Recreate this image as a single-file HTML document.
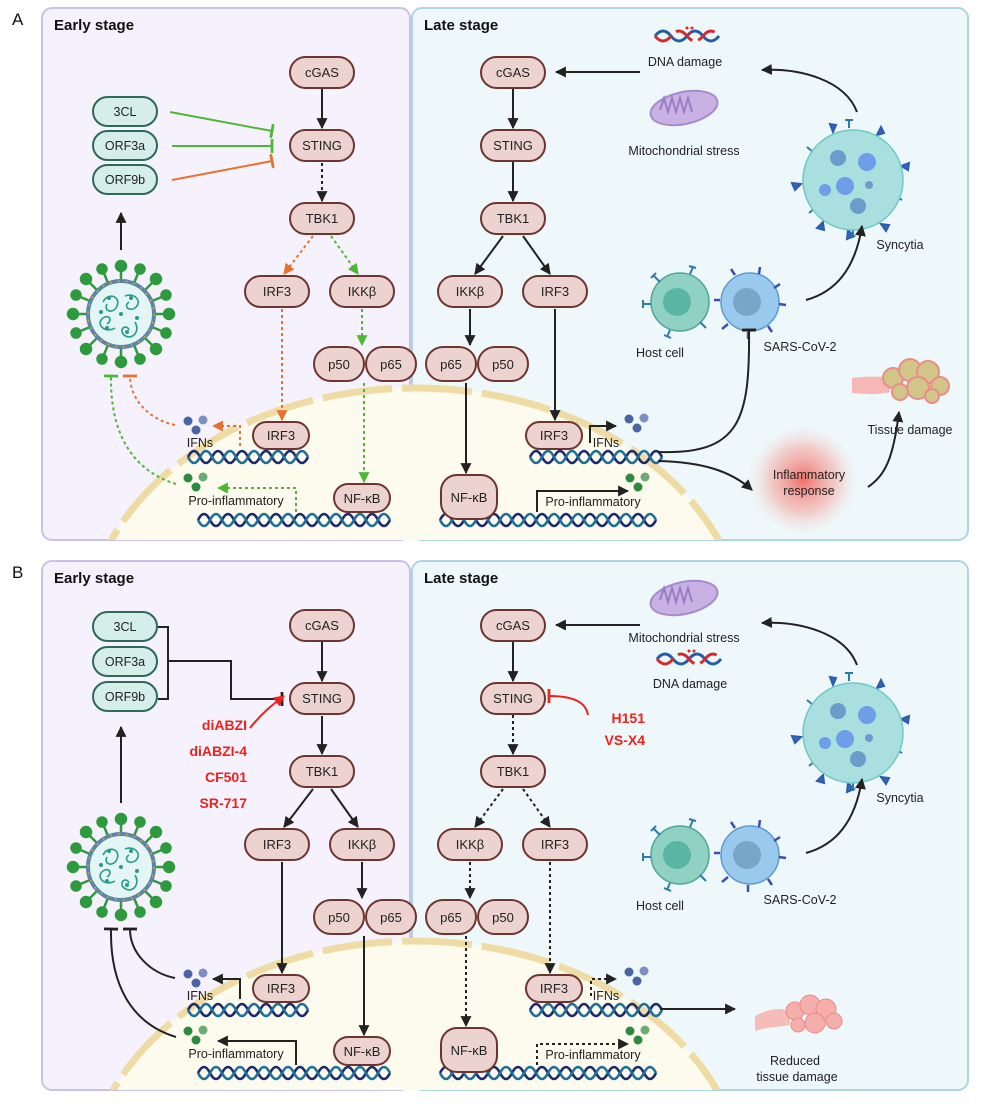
<!DOCTYPE html>
<html><head><meta charset="utf-8"><style>
html,body{margin:0;padding:0;background:#fff;width:991px;height:1104px;overflow:hidden;}
svg{display:block;font-family:"Liberation Sans",sans-serif;}
.n rect{fill:#ecd3cf;stroke:#6e3430;stroke-width:2;}
.g rect{fill:#d5eee9;stroke:#2d6a58;stroke-width:2;}
.t{font-size:13px;fill:#222;text-anchor:middle;}
.tl{font-size:12.5px;fill:#222;text-anchor:middle;}
.h{font-size:15px;font-weight:bold;fill:#111;}
.red{font-size:14px;font-weight:bold;fill:#f0201a;text-anchor:end;}
.k{stroke:#222;stroke-width:2;fill:none;}
.kd{stroke:#222;stroke-width:2;fill:none;stroke-dasharray:3 3;}
.o{stroke:#e8712d;stroke-width:2;fill:none;stroke-dasharray:3 3;}
.gr{stroke:#4cb834;stroke-width:2;fill:none;stroke-dasharray:3 3;}
.d1{stroke:#1d2a6e;stroke-width:2.6;fill:none;}
.d2{stroke:#1f6f96;stroke-width:2.6;fill:none;}
</style></head><body>
<svg width="991" height="1104" viewBox="0 0 991 1104" xmlns="http://www.w3.org/2000/svg">
<defs>
<marker id="ab" viewBox="0 0 10 10" refX="9" refY="5" markerUnits="userSpaceOnUse" markerWidth="11" markerHeight="11" orient="auto"><path d="M0 0L10 5L0 10z" fill="#222"/></marker>
<marker id="ao" viewBox="0 0 10 10" refX="9" refY="5" markerUnits="userSpaceOnUse" markerWidth="11" markerHeight="11" orient="auto"><path d="M0 0L10 5L0 10z" fill="#e8712d"/></marker>
<marker id="ag" viewBox="0 0 10 10" refX="9" refY="5" markerUnits="userSpaceOnUse" markerWidth="11" markerHeight="11" orient="auto"><path d="M0 0L10 5L0 10z" fill="#4cb834"/></marker>
<marker id="ar" viewBox="0 0 10 10" refX="9" refY="5" markerUnits="userSpaceOnUse" markerWidth="11" markerHeight="11" orient="auto"><path d="M0 0L10 5L0 10z" fill="#f0201a"/></marker>
<marker id="tb" viewBox="0 0 10 10" refX="5" refY="5" markerUnits="userSpaceOnUse" markerWidth="14" markerHeight="14" orient="auto"><path d="M5 0V10" stroke="#222" stroke-width="2"/></marker>
<marker id="tg" viewBox="0 0 10 10" refX="5" refY="5" markerUnits="userSpaceOnUse" markerWidth="14" markerHeight="14" orient="auto"><path d="M5 0V10" stroke="#4cb834" stroke-width="2"/></marker>
<marker id="to" viewBox="0 0 10 10" refX="5" refY="5" markerUnits="userSpaceOnUse" markerWidth="14" markerHeight="14" orient="auto"><path d="M5 0V10" stroke="#e8712d" stroke-width="2"/></marker>
<marker id="tr" viewBox="0 0 10 10" refX="5" refY="5" markerUnits="userSpaceOnUse" markerWidth="14" markerHeight="14" orient="auto"><path d="M5 0V10" stroke="#f0201a" stroke-width="2"/></marker>
<radialGradient id="glow"><stop offset="0" stop-color="#f05a50" stop-opacity="0.85"/><stop offset="0.6" stop-color="#f58a80" stop-opacity="0.4"/><stop offset="1" stop-color="#fbd0cc" stop-opacity="0"/></radialGradient>
<clipPath id="cA"><rect x="42" y="8" width="926" height="532" rx="10"/></clipPath>
<clipPath id="cB"><rect x="42" y="561" width="926" height="529" rx="10"/></clipPath>
<g id="virus">
 <g stroke="#2e9a3e" stroke-width="2.5" fill="#2e9a3e">
  <line x1="0" y1="-34" x2="0" y2="-46"/><line x1="0" y1="34" x2="0" y2="46"/><line x1="-34" y1="0" x2="-46" y2="0"/><line x1="34" y1="0" x2="46" y2="0"/>
  <line x1="24" y1="24" x2="33" y2="33"/><line x1="-24" y1="24" x2="-33" y2="33"/><line x1="24" y1="-24" x2="33" y2="-33"/><line x1="-24" y1="-24" x2="-33" y2="-33"/>
  <line x1="13" y1="-31" x2="18" y2="-43"/><line x1="-13" y1="-31" x2="-18" y2="-43"/><line x1="13" y1="31" x2="18" y2="43"/><line x1="-13" y1="31" x2="-18" y2="43"/>
  <line x1="31" y1="13" x2="43" y2="18"/><line x1="31" y1="-13" x2="43" y2="-18"/><line x1="-31" y1="13" x2="-43" y2="18"/><line x1="-31" y1="-13" x2="-43" y2="-18"/>
  <circle cx="0" cy="-48" r="5"/><circle cx="0" cy="48" r="5"/><circle cx="-48" cy="0" r="5"/><circle cx="48" cy="0" r="5"/>
  <circle cx="35" cy="35" r="5"/><circle cx="-35" cy="35" r="5"/><circle cx="35" cy="-35" r="5"/><circle cx="-35" cy="-35" r="5"/>
  <circle cx="19" cy="-45" r="4.5"/><circle cx="-19" cy="-45" r="4.5"/><circle cx="19" cy="45" r="4.5"/><circle cx="-19" cy="45" r="4.5"/>
  <circle cx="45" cy="19" r="4.5"/><circle cx="45" cy="-19" r="4.5"/><circle cx="-45" cy="19" r="4.5"/><circle cx="-45" cy="-19" r="4.5"/>
 </g>
 <circle r="33" fill="#e3f6f5" stroke="#5b86a6" stroke-width="4"/>
 <circle r="33" fill="none" stroke="#e0a030" stroke-width="1.5" stroke-dasharray="2 6"/>
 <g fill="none" stroke="#2a9a8a" stroke-width="1.6"><path d="M-18 -12 c5 -10 18 -6 14 4 c-3 8 -14 6 -10 -2"/><path d="M4 -18 c10 -4 18 6 10 12 c-6 4 -12 -2 -6 -6"/><path d="M14 8 c6 10 -4 20 -12 12 c-4 -6 4 -10 6 -4"/><path d="M-6 14 c-10 6 -20 -4 -12 -10 c6 -4 10 2 4 6"/></g>
 <g fill="#2a9a8a"><circle cx="-12" cy="-16" r="2"/><circle cx="10" cy="-16" r="2"/><circle cx="16" cy="4" r="2"/><circle cx="6" cy="18" r="2"/><circle cx="-14" cy="14" r="2"/><circle cx="-20" cy="-2" r="2"/><circle cx="0" cy="0" r="2"/></g>
</g>
<g id="dots"><circle cx="0" cy="0" r="4.5"/><circle cx="15" cy="-1" r="4.5" opacity="0.7"/><circle cx="8" cy="9" r="4.5"/></g>
<g id="syn">
 <g stroke="#2a5db0" stroke-width="2" fill="#3a64c0">
  <path d="M-20 -48 l-3 -8 l6 1z"/><path d="M24 -45 l4 -8 l3 6z"/><path d="M48 -14 l8 -3 l-1 7z"/><path d="M-52 4 l-9 -1 l3 7z"/><path d="M-30 42 l-6 6 l7 2z"/><path d="M-5 50 l-1 9 l7 -3z"/><path d="M28 44 l5 7 l3 -6z"/>
 </g>
 <g stroke="#2a7ab0" stroke-width="2" fill="none"><path d="M-4 -52 v-8 m-4 0 h8"/><path d="M-40 -28 l-6 -5"/><path d="M42 16 l7 4"/><path d="M-38 28 l-6 5"/><path d="M0 50 v8"/></g>
 <circle r="50" fill="#a9e0df" stroke="#6ec8c4" stroke-width="1.5"/>
 <circle cx="-15" cy="-22" r="8" fill="#6a9ccc"/><circle cx="14" cy="-18" r="9" fill="#6e9ee8"/><circle cx="-8" cy="6" r="9" fill="#6e9ee8"/><circle cx="-28" cy="10" r="6" fill="#6e9ee8"/><circle cx="16" cy="5" r="4" fill="#6a9ccc"/><circle cx="5" cy="26" r="8" fill="#6a9ccc"/>
</g>
<g id="cells">
 <circle cx="0" cy="0" r="29" fill="#8fd1c3" stroke="#4fa598" stroke-width="1.5"/>
 <circle cx="-3" cy="0" r="14" fill="#5bb5a5"/>
 <g stroke="#2a7ab0" stroke-width="2" fill="none"><path d="M-20 -20 l-6 -6 m-3 2 l5 -5"/><path d="M10 -28 l3 -7 m-4 -1 l7 2"/><path d="M-29 2 h-8 m0 -4 v8"/><path d="M-10 28 l-3 7 m-3 -2 l7 3"/><path d="M20 20 l6 6"/></g>
 <circle cx="70" cy="0" r="29" fill="#9ac9ee" stroke="#5a9ad0" stroke-width="1.5"/>
 <circle cx="67" cy="0" r="14" fill="#76a6c8"/>
 <g stroke="#3a50b0" stroke-width="2.5" fill="none"><path d="M55 -27 l-4 -6"/><path d="M79 -28 l1 -7"/><path d="M94 -14 l6 -4"/><path d="M99 2 l7 1"/><path d="M48 22 l-6 5"/><path d="M68 30 v7"/><path d="M88 24 l4 6"/><path d="M40 -2 l-6 0"/></g>
</g>
<g id="dnaL1"><path d="M188 457 q6 -12 12 0 t12 0 t12 0 t12 0 t12 0 t12 0 t12 0 t12 0 t12 0 t12 0" class="d1"/><path d="M188 457 q6 12 12 0 t12 0 t12 0 t12 0 t12 0 t12 0 t12 0 t12 0 t12 0 t12 0" class="d2"/></g>
<g id="dnaL2"><path d="M198 520 q6 -12 12 0 t12 0 t12 0 t12 0 t12 0 t12 0 t12 0 t12 0 t12 0 t12 0 t12 0 t12 0 t12 0 t12 0 t12 0 t12 0" class="d1"/><path d="M198 520 q6 12 12 0 t12 0 t12 0 t12 0 t12 0 t12 0 t12 0 t12 0 t12 0 t12 0 t12 0 t12 0 t12 0 t12 0 t12 0 t12 0" class="d2"/></g>
<g id="dnaR1"><path d="M530 457 q6 -12 12 0 t12 0 t12 0 t12 0 t12 0 t12 0 t12 0 t12 0 t12 0 t12 0 t12 0" class="d1"/><path d="M530 457 q6 12 12 0 t12 0 t12 0 t12 0 t12 0 t12 0 t12 0 t12 0 t12 0 t12 0 t12 0" class="d2"/></g>
<g id="dnaR2"><path d="M440 520 q6 -12 12 0 t12 0 t12 0 t12 0 t12 0 t12 0 t12 0 t12 0 t12 0 t12 0 t12 0 t12 0 t12 0 t12 0 t12 0 t12 0 t12 0 t12 0" class="d1"/><path d="M440 520 q6 12 12 0 t12 0 t12 0 t12 0 t12 0 t12 0 t12 0 t12 0 t12 0 t12 0 t12 0 t12 0 t12 0 t12 0 t12 0 t12 0 t12 0 t12 0" class="d2"/></g>
</defs>

<!-- PANEL A -->
<text x="12" y="25" font-size="17" fill="#111">A</text>
<rect x="42" y="8" width="368" height="532" rx="10" fill="#f5f2fd" stroke="#c9c2e8" stroke-width="2"/>
<rect x="412" y="8" width="556" height="532" rx="10" fill="#eef7fa" stroke="#afd5df" stroke-width="2"/>
<g clip-path="url(#cA)">
<ellipse cx="415" cy="638" rx="330" ry="250" fill="#fdfaee" stroke="#efdca4" stroke-width="7" stroke-dasharray="70 10"/>
</g>
<text x="54" y="30" class="h">Early stage</text>
<text x="424" y="30" class="h">Late stage</text>

<!-- A left -->
<use href="#dnaL1"/><use href="#dnaL2"/><use href="#dnaR1"/><use href="#dnaR2"/>
<g class="n"><rect x="290" y="57" width="64" height="31" rx="15.5"/><rect x="290" y="130" width="64" height="31" rx="15.5"/><rect x="290" y="203" width="64" height="31" rx="15.5"/>
<rect x="245" y="276" width="64" height="31" rx="15.5"/><rect x="330" y="276" width="64" height="31" rx="15.5"/>
<rect x="314" y="347" width="50" height="34" rx="17"/><rect x="366" y="347" width="50" height="34" rx="17"/>
<rect x="253" y="422" width="56" height="27" rx="13.5"/><rect x="334" y="484" width="56" height="28" rx="14"/></g>
<text x="322" y="77" class="t">cGAS</text><text x="322" y="150" class="t">STING</text><text x="322" y="223" class="t">TBK1</text>
<text x="277" y="296" class="t">IRF3</text><text x="362" y="296" class="t">IKKβ</text>
<text x="339" y="369" class="t">p50</text><text x="391" y="369" class="t">p65</text>
<text x="281" y="440" class="t">IRF3</text><text x="362" y="503" class="t">NF-κB</text>
<g class="g"><rect x="93" y="97" width="64" height="29" rx="14.5"/><rect x="93" y="131" width="64" height="29" rx="14.5"/><rect x="93" y="165" width="64" height="29" rx="14.5"/></g>
<text x="125" y="116" class="tl">3CL</text><text x="125" y="150" class="tl">ORF3a</text><text x="125" y="184" class="tl">ORF9b</text>
<use href="#virus" x="121" y="314"/>
<line x1="121" y1="250" x2="121" y2="213" class="k" marker-end="url(#ab)"/>
<line x1="170" y1="112" x2="272" y2="131" stroke="#4cb834" stroke-width="2" marker-end="url(#tg)"/>
<line x1="172" y1="146" x2="272" y2="146" stroke="#4cb834" stroke-width="2" marker-end="url(#tg)"/>
<line x1="172" y1="180" x2="272" y2="161" stroke="#e8712d" stroke-width="2" marker-end="url(#to)"/>
<line x1="322" y1="89" x2="322" y2="128" class="k" marker-end="url(#ab)"/>
<line x1="322" y1="163" x2="322" y2="201" class="kd" marker-end="url(#ab)"/>
<line x1="313" y1="236" x2="284" y2="274" class="o" marker-end="url(#ao)"/>
<line x1="331" y1="236" x2="358" y2="274" class="gr" marker-end="url(#ag)"/>
<line x1="362" y1="309" x2="362" y2="345" class="gr" marker-end="url(#ag)"/>
<line x1="282" y1="309" x2="282" y2="420" class="o" marker-end="url(#ao)"/>
<line x1="364" y1="383" x2="364" y2="482" class="gr" marker-end="url(#ag)"/>
<g fill="#4a64a8"><use href="#dots" x="188" y="421"/></g>
<text x="200" y="447" class="tl">IFNs</text>
<path d="M240 446 V426 H213" class="o" marker-end="url(#ao)"/>
<path d="M175 425 C150 420 130 400 130 376" class="o" marker-end="url(#to)"/>
<g fill="#2e8a3e"><use href="#dots" x="188" y="478"/></g>
<text x="236" y="505" class="tl">Pro-inflammatory</text>
<path d="M296 512 V488 H218" class="gr" marker-end="url(#ag)"/>
<path d="M176 484 C130 470 110 430 111 376" class="gr" marker-end="url(#tg)"/>

<!-- A right -->
<g class="n"><rect x="481" y="57" width="64" height="31" rx="15.5"/><rect x="481" y="130" width="64" height="31" rx="15.5"/><rect x="481" y="203" width="64" height="31" rx="15.5"/>
<rect x="438" y="276" width="64" height="31" rx="15.5"/><rect x="523" y="276" width="64" height="31" rx="15.5"/>
<rect x="426" y="347" width="50" height="34" rx="17"/><rect x="478" y="347" width="50" height="34" rx="17"/>
<rect x="526" y="422" width="56" height="27" rx="13.5"/><rect x="441" y="475" width="56" height="44" rx="16"/></g>
<text x="513" y="77" class="t">cGAS</text><text x="513" y="150" class="t">STING</text><text x="513" y="223" class="t">TBK1</text>
<text x="470" y="296" class="t">IKKβ</text><text x="555" y="296" class="t">IRF3</text>
<text x="451" y="369" class="t">p65</text><text x="503" y="369" class="t">p50</text>
<text x="554" y="440" class="t">IRF3</text><text x="469" y="502" class="t">NF-κB</text>
<line x1="513" y1="89" x2="513" y2="128" class="k" marker-end="url(#ab)"/>
<line x1="513" y1="162" x2="513" y2="201" class="k" marker-end="url(#ab)"/>
<line x1="503" y1="236" x2="475" y2="274" class="k" marker-end="url(#ab)"/>
<line x1="523" y1="236" x2="550" y2="274" class="k" marker-end="url(#ab)"/>
<line x1="470" y1="309" x2="470" y2="345" class="k" marker-end="url(#ab)"/>
<line x1="555" y1="309" x2="555" y2="420" class="k" marker-end="url(#ab)"/>
<line x1="466" y1="383" x2="466" y2="473" class="k" marker-end="url(#ab)"/>
<line x1="640" y1="72" x2="556" y2="72" class="k" marker-end="url(#ab)"/>
<path d="M590 443 V426 H616" class="k" marker-end="url(#ab)"/>
<text x="606" y="447" class="tl">IFNs</text>
<g fill="#4a64a8"><use href="#dots" x="629" y="419"/></g>
<path d="M537 512 V491 H628" class="k" marker-end="url(#ab)"/>
<text x="593" y="506" class="tl">Pro-inflammatory</text>
<g fill="#2e8a3e"><use href="#dots" x="630" y="478"/></g>
<!-- DNA damage icon -->
<path d="M655 36 q8 -10 16 0 t16 0 t16 0 t16 0" stroke="#1e5fa8" stroke-width="3" fill="none"/>
<path d="M655 36 q8 10 16 0 t16 0 t16 0 t16 0" stroke="#d62828" stroke-width="3" fill="none" stroke-dasharray="20 6"/>
<circle cx="687" cy="28" r="1.5" fill="#d62828"/><circle cx="692" cy="28" r="1.5" fill="#d62828"/><circle cx="690" cy="33" r="1.5" fill="#d62828"/>
<text x="685" y="66" class="tl">DNA damage</text>
<ellipse cx="684" cy="108" rx="34" ry="16" fill="#c8b2e4" stroke="#a58ad0" stroke-width="2" transform="rotate(-12 684 108)"/>
<path d="M660 110 l4 -12 l4 14 l4 -14 l4 14 l4 -14 l4 14 l4 -14 l4 14" stroke="#9a7cc6" stroke-width="2" fill="none"/>
<text x="684" y="155" class="tl">Mitochondrial stress</text>
<use href="#syn" x="853" y="180"/>
<text x="900" y="249" class="tl">Syncytia</text>
<path d="M857 112 C845 80 800 68 762 70" class="k" marker-end="url(#ab)"/>
<use href="#cells" x="680" y="302"/>
<text x="660" y="357" class="tl">Host cell</text>
<text x="800" y="351" class="tl">SARS-CoV-2</text>
<path d="M806 300 C835 292 855 270 862 226" class="k" marker-end="url(#ab)"/>
<path d="M658 452 C740 455 750 420 749 330" class="k" marker-end="url(#tb)"/>
<path d="M658 461 C700 462 730 470 752 490" class="k" marker-end="url(#ab)"/>
<circle cx="803" cy="480" r="55" fill="url(#glow)"/>
<text x="809" y="479" class="tl">Inflammatory</text><text x="809" y="495" class="tl">response</text>
<path d="M868 487 C885 475 893 460 899 412" class="k" marker-end="url(#ab)"/>
<path d="M852 378 C870 376 880 376 890 378 L890 392 C880 395 865 394 852 393z" fill="#f6b8b4"/>
<g fill="#d3c487" stroke="#e88c8c" stroke-width="2"><circle cx="893" cy="378" r="10"/><circle cx="910" cy="370" r="11"/><circle cx="928" cy="372" r="11"/><circle cx="940" cy="386" r="9"/><circle cx="918" cy="388" r="11"/><circle cx="900" cy="392" r="8"/><circle cx="932" cy="396" r="7"/></g>
<text x="910" y="434" class="tl">Tissue damage</text>

<!-- PANEL B -->
<text x="12" y="578" font-size="17" fill="#111">B</text>
<rect x="42" y="561" width="368" height="529" rx="10" fill="#f5f2fd" stroke="#c9c2e8" stroke-width="2"/>
<rect x="412" y="561" width="556" height="529" rx="10" fill="#eef7fa" stroke="#afd5df" stroke-width="2"/>
<g clip-path="url(#cB)">
<ellipse cx="415" cy="1191" rx="330" ry="250" fill="#fdfaee" stroke="#efdca4" stroke-width="7" stroke-dasharray="70 10"/>
</g>
<text x="54" y="583" class="h">Early stage</text>
<text x="424" y="583" class="h">Late stage</text>

<g transform="translate(0,553)">
<use href="#dnaL1"/><use href="#dnaL2"/><use href="#dnaR1"/><use href="#dnaR2"/>
<!-- B left nodes -->
<g class="n"><rect x="290" y="57" width="64" height="31" rx="15.5"/><rect x="290" y="130" width="64" height="31" rx="15.5"/><rect x="290" y="203" width="64" height="31" rx="15.5"/>
<rect x="245" y="276" width="64" height="31" rx="15.5"/><rect x="330" y="276" width="64" height="31" rx="15.5"/>
<rect x="314" y="347" width="50" height="34" rx="17"/><rect x="366" y="347" width="50" height="34" rx="17"/>
<rect x="253" y="422" width="56" height="27" rx="13.5"/><rect x="334" y="484" width="56" height="28" rx="14"/></g>
<text x="322" y="77" class="t">cGAS</text><text x="322" y="150" class="t">STING</text><text x="322" y="223" class="t">TBK1</text>
<text x="277" y="296" class="t">IRF3</text><text x="362" y="296" class="t">IKKβ</text>
<text x="339" y="369" class="t">p50</text><text x="391" y="369" class="t">p65</text>
<text x="281" y="440" class="t">IRF3</text><text x="362" y="503" class="t">NF-κB</text>
<g class="g"><rect x="93" y="59" width="64" height="29" rx="14.5"/><rect x="93" y="94" width="64" height="29" rx="14.5"/><rect x="93" y="129" width="64" height="29" rx="14.5"/></g>
<text x="125" y="78" class="tl">3CL</text><text x="125" y="113" class="tl">ORF3a</text><text x="125" y="148" class="tl">ORF9b</text>
<path d="M158 74 H168 V146 H158" class="k"/>
<path d="M168 108 H231 V146 H282" class="k" marker-end="url(#tb)"/>
<path d="M250 175 C262 160 272 152 284 143" stroke="#f0201a" stroke-width="2" fill="none" marker-end="url(#ar)"/>
<text x="247" y="177" class="red">diABZI</text><text x="247" y="203" class="red">diABZI-4</text><text x="247" y="229" class="red">CF501</text><text x="247" y="255" class="red">SR-717</text>
<use href="#virus" x="121" y="314"/>
<line x1="121" y1="250" x2="121" y2="174" class="k" marker-end="url(#ab)"/>
<line x1="322" y1="89" x2="322" y2="128" class="k" marker-end="url(#ab)"/>
<line x1="322" y1="163" x2="322" y2="201" class="k" marker-end="url(#ab)"/>
<line x1="313" y1="236" x2="284" y2="274" class="k" marker-end="url(#ab)"/>
<line x1="331" y1="236" x2="358" y2="274" class="k" marker-end="url(#ab)"/>
<line x1="362" y1="309" x2="362" y2="345" class="k" marker-end="url(#ab)"/>
<line x1="282" y1="309" x2="282" y2="420" class="k" marker-end="url(#ab)"/>
<line x1="364" y1="383" x2="364" y2="482" class="k" marker-end="url(#ab)"/>
<g fill="#4a64a8"><use href="#dots" x="188" y="421"/></g>
<text x="200" y="447" class="tl">IFNs</text>
<path d="M240 446 V426 H213" class="k" marker-end="url(#ab)"/>
<path d="M175 425 C150 420 130 400 130 376" class="k" marker-end="url(#tb)"/>
<g fill="#2e8a3e"><use href="#dots" x="188" y="478"/></g>
<text x="236" y="505" class="tl">Pro-inflammatory</text>
<path d="M296 512 V488 H218" class="k" marker-end="url(#ab)"/>
<path d="M176 484 C130 470 110 430 111 376" class="k" marker-end="url(#tb)"/>

<!-- B right -->
<g class="n"><rect x="481" y="57" width="64" height="31" rx="15.5"/><rect x="481" y="130" width="64" height="31" rx="15.5"/><rect x="481" y="203" width="64" height="31" rx="15.5"/>
<rect x="438" y="276" width="64" height="31" rx="15.5"/><rect x="523" y="276" width="64" height="31" rx="15.5"/>
<rect x="426" y="347" width="50" height="34" rx="17"/><rect x="478" y="347" width="50" height="34" rx="17"/>
<rect x="526" y="422" width="56" height="27" rx="13.5"/><rect x="441" y="475" width="56" height="44" rx="16"/></g>
<text x="513" y="77" class="t">cGAS</text><text x="513" y="150" class="t">STING</text><text x="513" y="223" class="t">TBK1</text>
<text x="470" y="296" class="t">IKKβ</text><text x="555" y="296" class="t">IRF3</text>
<text x="451" y="369" class="t">p65</text><text x="503" y="369" class="t">p50</text>
<text x="554" y="440" class="t">IRF3</text><text x="469" y="502" class="t">NF-κB</text>
<line x1="513" y1="89" x2="513" y2="128" class="k" marker-end="url(#ab)"/>
<line x1="513" y1="162" x2="513" y2="201" class="kd" marker-end="url(#ab)"/>
<line x1="503" y1="236" x2="475" y2="274" class="kd" marker-end="url(#ab)"/>
<line x1="523" y1="236" x2="550" y2="274" class="kd" marker-end="url(#ab)"/>
<line x1="470" y1="309" x2="470" y2="345" class="kd" marker-end="url(#ab)"/>
<line x1="550" y1="309" x2="550" y2="420" class="kd" marker-end="url(#ab)"/>
<line x1="466" y1="383" x2="466" y2="473" class="kd" marker-end="url(#ab)"/>
<line x1="640" y1="72" x2="556" y2="72" class="k" marker-end="url(#ab)"/>
<path d="M588 162 C586 150 575 143 549 143" stroke="#f0201a" stroke-width="2" fill="none" marker-end="url(#tr)"/>
<text x="645" y="170" class="red">H151</text><text x="645" y="192" class="red">VS-X4</text>
<path d="M591 443 V426 H616" class="kd" marker-end="url(#ab)"/>
<text x="606" y="447" class="tl">IFNs</text>
<g fill="#4a64a8"><use href="#dots" x="629" y="419"/></g>
<path d="M537 512 V491 H628" class="kd" marker-end="url(#ab)"/>
<text x="593" y="506" class="tl">Pro-inflammatory</text>
<g fill="#2e8a3e"><use href="#dots" x="630" y="478"/></g>
<!-- mito, DNA -->
<ellipse cx="684" cy="45" rx="34" ry="16" fill="#c8b2e4" stroke="#a58ad0" stroke-width="2" transform="rotate(-12 684 45)"/>
<path d="M660 47 l4 -12 l4 14 l4 -14 l4 14 l4 -14 l4 14 l4 -14 l4 14" stroke="#9a7cc6" stroke-width="2" fill="none"/>
<text x="684" y="89" class="tl">Mitochondrial stress</text>
<path d="M657 106 q8 -10 16 0 t16 0 t16 0 t16 0" stroke="#1e5fa8" stroke-width="3" fill="none"/>
<path d="M657 106 q8 10 16 0 t16 0 t16 0 t16 0" stroke="#d62828" stroke-width="3" fill="none" stroke-dasharray="20 6"/>
<circle cx="689" cy="98" r="1.5" fill="#d62828"/><circle cx="694" cy="98" r="1.5" fill="#d62828"/>
<text x="690" y="135" class="tl">DNA damage</text>
<use href="#syn" x="853" y="180"/>
<text x="900" y="249" class="tl">Syncytia</text>
<path d="M857 112 C845 80 800 68 762 70" class="k" marker-end="url(#ab)"/>
<use href="#cells" x="680" y="302"/>
<text x="660" y="357" class="tl">Host cell</text>
<text x="800" y="351" class="tl">SARS-CoV-2</text>
<path d="M806 300 C835 292 855 270 862 226" class="k" marker-end="url(#ab)"/>
<line x1="660" y1="456" x2="735" y2="456" class="k" marker-end="url(#ab)"/>
<path d="M755 463 C770 455 780 455 790 458 L790 472 C778 474 768 474 755 478z" fill="#f5bcb8"/>
<g fill="#f6aeaa" stroke="#e88c8c" stroke-width="1"><circle cx="795" cy="458" r="9"/><circle cx="810" cy="452" r="10"/><circle cx="826" cy="456" r="10"/><circle cx="834" cy="468" r="8"/><circle cx="815" cy="470" r="10"/><circle cx="798" cy="472" r="7"/></g>
<text x="795" y="512" class="tl">Reduced</text><text x="797" y="528" class="tl">tissue damage</text>
</g>
</svg>
</body></html>
